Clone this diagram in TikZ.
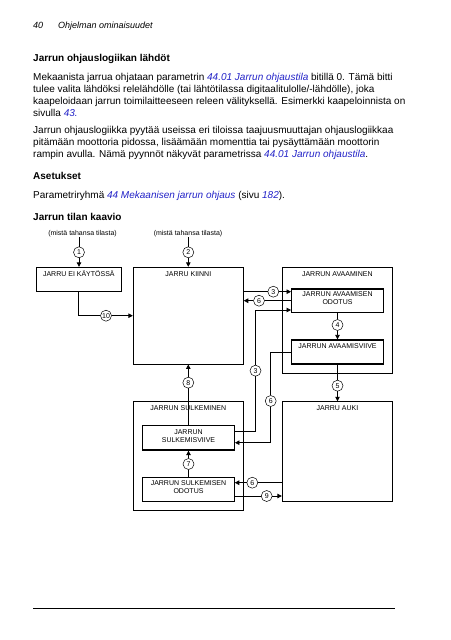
\documentclass[tikz,border=0pt]{standalone}
\usepackage{fontspec}
\setmainfont{Liberation Sans}
\usetikzlibrary{arrows.meta}
\definecolor{linkblue}{RGB}{35,35,200}
\newcommand{\lnk}[1]{\textcolor{linkblue}{\textit{#1}}}
\begin{document}
\begin{tikzpicture}[x=1pt,y=-1pt,
  txt/.style={inner sep=0pt,anchor=base west,font=\fontsize{10}{12}\selectfont},
  boldtxt/.style={txt,font=\fontsize{10}{12}\selectfont\bfseries},
  hdr/.style={inner sep=0pt,anchor=base west,font=\fontsize{9}{11}\selectfont\itshape},
  small/.style={inner sep=0pt,font=\fontsize{7}{8}\selectfont},
  sbox/.style={draw,line width=0.9pt,inner sep=0pt},
  ibox/.style={draw,line width=1.3pt,inner sep=0pt},
  num/.style={circle,draw,line width=0.5pt,fill=white,inner sep=0.5pt,minimum size=11pt,font=\fontsize{7}{8}\selectfont},
  conn/.style={line width=0.8pt},
  arr/.style={conn,-{Triangle[length=4.5pt,width=4.5pt]}}]
\useasboundingbox[fill=white] (0,0) rectangle (450,640);

% header
\node[hdr] (pg) at (33,28) {40};
\node[hdr] (sec) at (58,28) {Ohjelman ominaisuudet};

% text
\node[boldtxt] (t1) at (33,61) {Jarrun ohjauslogiikan lähdöt};
\node[txt] (p1a) at (33,80.5) {Mekaanista jarrua ohjataan parametrin \lnk{44.01 Jarrun ohjaustila} bitillä 0. Tämä bitti};
\node[txt] (p1b) at (33,92.5) {tulee valita lähdöksi relelähdölle (tai lähtötilassa digitaalitulolle/-lähdölle), joka};
\node[txt] (p1c) at (33,104.5) {kaapeloidaan jarrun toimilaitteeseen releen välityksellä. Esimerkki kaapeloinnista on};
\node[txt] (p1d) at (33,116.5) {sivulla \lnk{43.}};
\node[txt] (p2a) at (33,133.5) {Jarrun ohjauslogiikka pyytää useissa eri tiloissa taajuusmuuttajan ohjauslogiikkaa};
\node[txt] (p2b) at (33,145.5) {pitämään moottoria pidossa, lisäämään momenttia tai pysäyttämään moottorin};
\node[txt] (p2c) at (33,157.5) {rampin avulla. Nämä pyynnöt näkyvät parametrissa \lnk{44.01 Jarrun ohjaustila}.};
\node[boldtxt] (t2) at (33,179.5) {Asetukset};
\node[txt] (p3) at (33,198.5) {Parametriryhmä \lnk{44 Mekaanisen jarrun ohjaus} (sivu \lnk{182}).};
\node[boldtxt] (t3) at (33,220) {Jarrun tilan kaavio};

% source labels
\node[small] (m1) at (82.5,234) {(mistä tahansa tilasta)};
\node[small] (m2) at (188,234) {(mistä tahansa tilasta)};

% boxes
\node[sbox,minimum width=84.3pt,minimum height=23.7pt] (ei) at (78.85,279.15) {};
\node[sbox,minimum width=110pt,minimum height=96.7pt] (kiinni) at (188.3,315.65) {};
\node[sbox,minimum width=110pt,minimum height=106pt] (avaam) at (337.3,320.3) {};
\node[ibox,minimum width=91.6pt,minimum height=23.7pt] (aodot) at (337.5,300.85) {};
\node[ibox,minimum width=91.6pt,minimum height=24pt] (aviive) at (337.5,352) {};
\node[sbox,minimum width=110pt,minimum height=108.3pt] (sulk) at (188.3,455.85) {};
\node[ibox,minimum width=91.6pt,minimum height=24.3pt] (sviive) at (188.5,437.85) {};
\node[sbox,minimum width=91.6pt,minimum height=23.7pt] (sodot) at (188.5,489.15) {};
\node[sbox,minimum width=110.4pt,minimum height=99.3pt] (auki) at (337.5,451.35) {};

% number circles
\node[num] (c1) at (79,252.3) {1};
\node[num] (c2) at (188.3,252.3) {2};
\node[num] (c10) at (106,315.7) {10};
\node[num] (c3a) at (273.3,291.7) {3};
\node[num] (c6a) at (259,300.7) {6};
\node[num] (c3b) at (255.5,370.7) {3};
\node[num] (c4) at (337.5,325) {4};
\node[num] (c6b) at (270.7,401) {6};
\node[num] (c5) at (337.5,385.7) {5};
\node[num] (c8) at (188.3,382.7) {8};
\node[num] (c7) at (188.5,464) {7};
\node[num] (c6c) at (252.3,482.7) {6};
\node[num] (c9) at (266.7,496) {9};

% connectors
\draw[conn] (m1.south -| c1) -- (c1);
\draw[arr] (c1) -- (c1 |- ei.north);
\draw[conn] (m2.south -| c2) -- (c2);
\draw[arr] (c2) -- (c2 |- kiinni.north);
\draw[conn] (ei.south) |- (c10);
\draw[arr] (c10) -- (c10 -| kiinni.west);
\draw[conn] (kiinni.east |- c3a) -- (c3a);
\draw[arr] (c3a) -- (c3a -| aodot.west);
\draw[conn] (aodot.west |- c6a) -- (c6a);
\draw[arr] (c6a) -- (c6a -| kiinni.east);
\draw[conn] ([yshift=6.15pt]sviive.east) -| (c3b);
\draw[arr] (c3b) |- ([yshift=-9.15pt]aodot.west);
\draw[conn] (aodot.south) -- (c4);
\draw[arr] (c4) -- (aviive.north);
\draw[conn] (aviive.west) -| (c6b);
\draw[arr] (c6b) |- ([yshift=-4.85pt]sviive.east);
\draw[conn] (aviive.south) -- (c5);
\draw[arr] (c5) -- (auki.north);
\draw[conn] (c8 |- sviive.north) -- (c8);
\draw[arr] (c8) -- (c8 |- kiinni.south);
\draw[conn] (sodot.north) -- (c7);
\draw[arr] (c7) -- (sviive.south);
\draw[conn] (auki.west |- c6c) -- (c6c);
\draw[arr] (c6c) -- (c6c -| sodot.east);
\draw[conn] (sodot.east |- c9) -- (c9);
\draw[arr] (c9) -- (c9 -| auki.west);

% box texts
\node[small,anchor=base] (lei) at (78.85,276) {JARRU EI KÄYTÖSSÄ};
\node[small,anchor=base] (lki) at (188.3,276) {JARRU KIINNI};
\node[small,anchor=base] (lav) at (337.3,276) {JARRUN AVAAMINEN};
\node[small,align=center] (lao) at (337.5,298.3) {JARRUN AVAAMISEN\\ODOTUS};
\node[small,anchor=base] (lavi) at (337.5,348.2) {JARRUN AVAAMISVIIVE};
\node[small,anchor=base] (lsu) at (188.3,410.8) {JARRUN SULKEMINEN};
\node[small,align=center] (lsv) at (188.5,435.8) {JARRUN\\SULKEMISVIIVE};
\node[small,align=center] (lso) at (188.5,487.5) {JARRUN SULKEMISEN\\ODOTUS};
\node[small,anchor=base] (lau) at (337.5,410.8) {JARRU AUKI};

% footer rule
\coordinate (fl) at (33,608.5);
\coordinate (fr) at (395,608.5);
\draw[line width=1pt] (fl) -- (fr);
\end{tikzpicture}
\end{document}
